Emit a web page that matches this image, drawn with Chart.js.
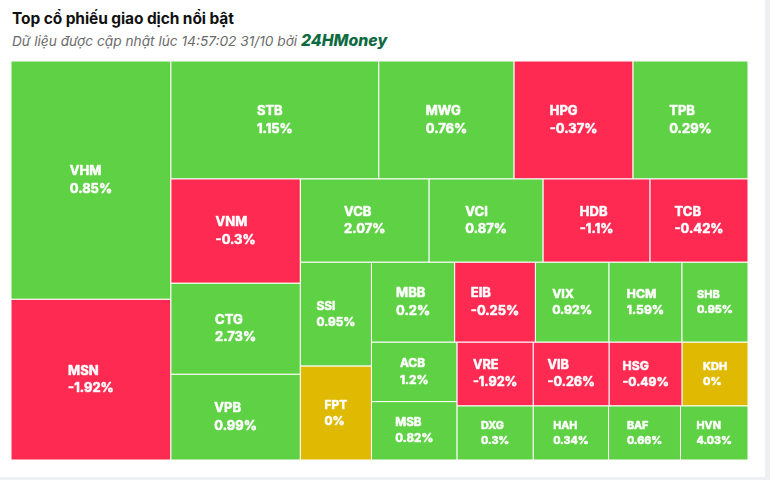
<!DOCTYPE html>
<html lang="vi">
<head>
<meta charset="utf-8">
<title>Top cổ phiếu giao dịch nổi bật</title>
<script src="https://cdn.jsdelivr.net/npm/chart.js@4.4.0/dist/chart.umd.min.js"></script>
<style>
  body { margin: 0; background: #eef0f3; font-family: Inter, Roboto, sans-serif; }
  .card { position: absolute; left: 0; top: 0; width: 765px; height: 477px; background: #fff; }
  h1 { position: absolute; left: 12px; top: 9px; margin: 0; font-size: 15.5px; font-weight: 700; color: #111; letter-spacing: -0.1px; }
  .sub { position: absolute; left: 12px; top: 31px; font-size: 13.7px; font-style: italic; color: #6b6b6b; }
  .sub b { color: #0d6b3f; font-size: 15.8px; font-weight: 800; }
  .box { position: absolute; left: 11px; top: 61px; width: 737px; height: 399px; }
</style>
</head>
<body>
<div class="card">
  <h1>Top cổ phiếu giao dịch nổi bật</h1>
  <div class="sub">Dữ liệu được cập nhật lúc 14:57:02 31/10 bởi <b>24HMoney</b></div>
  <div class="box"><canvas id="treeChart"></canvas></div>
</div>
<script>
// ma co phieu, theo thu tu gia tri giao dich giam dan
var tickers = ['VHM', 'MSN', 'STB', 'MWG', 'HPG', 'TPB', 'VNM', 'CTG', 'VPB', 'VCB',
               'VCI', 'HDB', 'TCB', 'SSI', 'FPT', 'MBB', 'EIB', 'VIX', 'HCM', 'SHB',
               'ACB', 'MSB', 'VRE', 'VIB', 'HSG', 'KDH', 'DXG', 'HAH', 'BAF', 'HVN'];
// gia tri giao dich (uoc luong tu dien tich o)
var tradeValues = [381.3, 257.1, 245.4, 159.7, 140.4, 135.7, 135.1, 117.9, 111.0, 107.3,
                   95.0, 89.1, 81.6, 73.9, 66.8, 66.6, 64.6, 58.9, 58.4, 52.8,
                   50.9, 50.0, 48.6, 48.4, 46.5, 42.0, 41.2, 40.7, 38.9, 36.5];
// % thay doi gia
var changes = [0.85, -1.92, 1.15, 0.76, -0.37, 0.29, -0.3, 2.73, 0.99, 2.07,
               0.87, -1.1, -0.42, 0.95, 0, 0.2, -0.25, 0.92, 1.59, 0.95,
               1.2, 0.82, -1.92, -0.26, -0.49, 0, 0.3, 0.34, 0.66, 4.03];

var upColor = '#5fd145';
var downColor = '#ff2a51';
var flatColor = '#e0b902';

// squarified treemap, huong xen ke (cot, hang, cot, ...)
function squarify(values, W, H) {
  var total = values.reduce(function (a, b) { return a + b; }, 0);
  var areas = values.map(function (v) { return v / total * W * H; });
  var x = 0, y = 0, w = W, h = H, vertical = true, i = 0, out = [];
  var ratio = function (a, b) { return Math.max(a / b, b / a); };
  while (i < areas.length) {
    var row = [areas[i]], sum = areas[i], j = i + 1;
    while (j < areas.length) {
      var last = row[row.length - 1];
      var side = vertical ? h : w;
      var oldT = sum / side, newT = (sum + areas[j]) / side;
      if (ratio(newT, last / newT) > ratio(oldT, last / oldT)) break;
      row.push(areas[j]); sum += areas[j]; j++;
    }
    if (vertical) {
      var t = sum / h, yy = y;
      row.forEach(function (a) { out.push({x: x, y: yy, w: t, h: a / t}); yy += a / t; });
      x += t; w -= t;
    } else {
      var t2 = sum / w, xx = x;
      row.forEach(function (a) { out.push({x: xx, y: y, w: a / t2, h: t2}); xx += a / t2; });
      y += t2; h -= t2;
    }
    vertical = !vertical;
    i = j;
  }
  return out;
}

var treemapPlugin = {
  id: 'treemap',
  afterDatasetsDraw: function (chart) {
    var ctx = chart.ctx, xs = chart.scales.x, ys = chart.scales.y;
    var W = Math.abs(xs.getPixelForValue(1) - xs.getPixelForValue(0));
    var H = Math.abs(ys.getPixelForValue(1) - ys.getPixelForValue(0));
    var cells = squarify(tradeValues, W, H);
    ctx.save();
    cells.forEach(function (c, i) {
      var left = xs.getPixelForValue(c.x / W), right = xs.getPixelForValue((c.x + c.w) / W);
      var top = ys.getPixelForValue(c.y / H), bottom = ys.getPixelForValue((c.y + c.h) / H);
      var cw = right - left, ch = bottom - top;
      var chg = changes[i];
      ctx.fillStyle = chg > 0 ? upColor : (chg < 0 ? downColor : flatColor);
      ctx.fillRect(left, top, cw, ch);
      ctx.strokeStyle = '#ffffff';
      ctx.lineWidth = 1;
      ctx.strokeRect(left, top, cw, ch);

      // nhan: ma + %
      var fs = Math.max(10, Math.min(13, Math.min(cw, ch * 1.2) / 6));
      ctx.font = 'bold ' + fs.toFixed(1) + 'px Inter, Roboto, sans-serif';
      var l1 = tickers[i], l2 = String(chg) + '%';
      var bw = Math.max(ctx.measureText(l1).width, ctx.measureText(l2).width);
      var lh = fs * 1.35;
      var tx = (left + right) / 2 - bw / 2, cy = (top + bottom) / 2;
      ctx.fillStyle = '#ffffff';
      ctx.strokeStyle = 'rgba(255,255,255,0.8)';
      ctx.lineWidth = 0.7;
      ctx.lineJoin = 'round';
      ctx.textAlign = 'left';
      ctx.textBaseline = 'middle';
      [l1, l2].forEach(function (s, k) {
        var ty = cy + (k === 0 ? -lh / 2 : lh / 2);
        ctx.strokeText(s, tx, ty);
        ctx.fillText(s, tx, ty);
      });
    });
    ctx.restore();
  }
};

var ctx_tree = document.getElementById('treeChart').getContext('2d');
var treeChart = new Chart(ctx_tree, {
  type: 'scatter',
  data: { datasets: [{ label: 'Giá trị giao dịch', data: [] }] },
  options: {
    responsive: true,
    maintainAspectRatio: false,
    animation: false,
    layout: { padding: 0 },
    plugins: { legend: { display: false }, tooltip: { enabled: false } },
    scales: {
      x: { type: 'linear', min: 0, max: 1, display: false },
      y: { type: 'linear', min: 0, max: 1, reverse: true, display: false }
    }
  },
  plugins: [treemapPlugin]
});
</script>
</body>
</html>
